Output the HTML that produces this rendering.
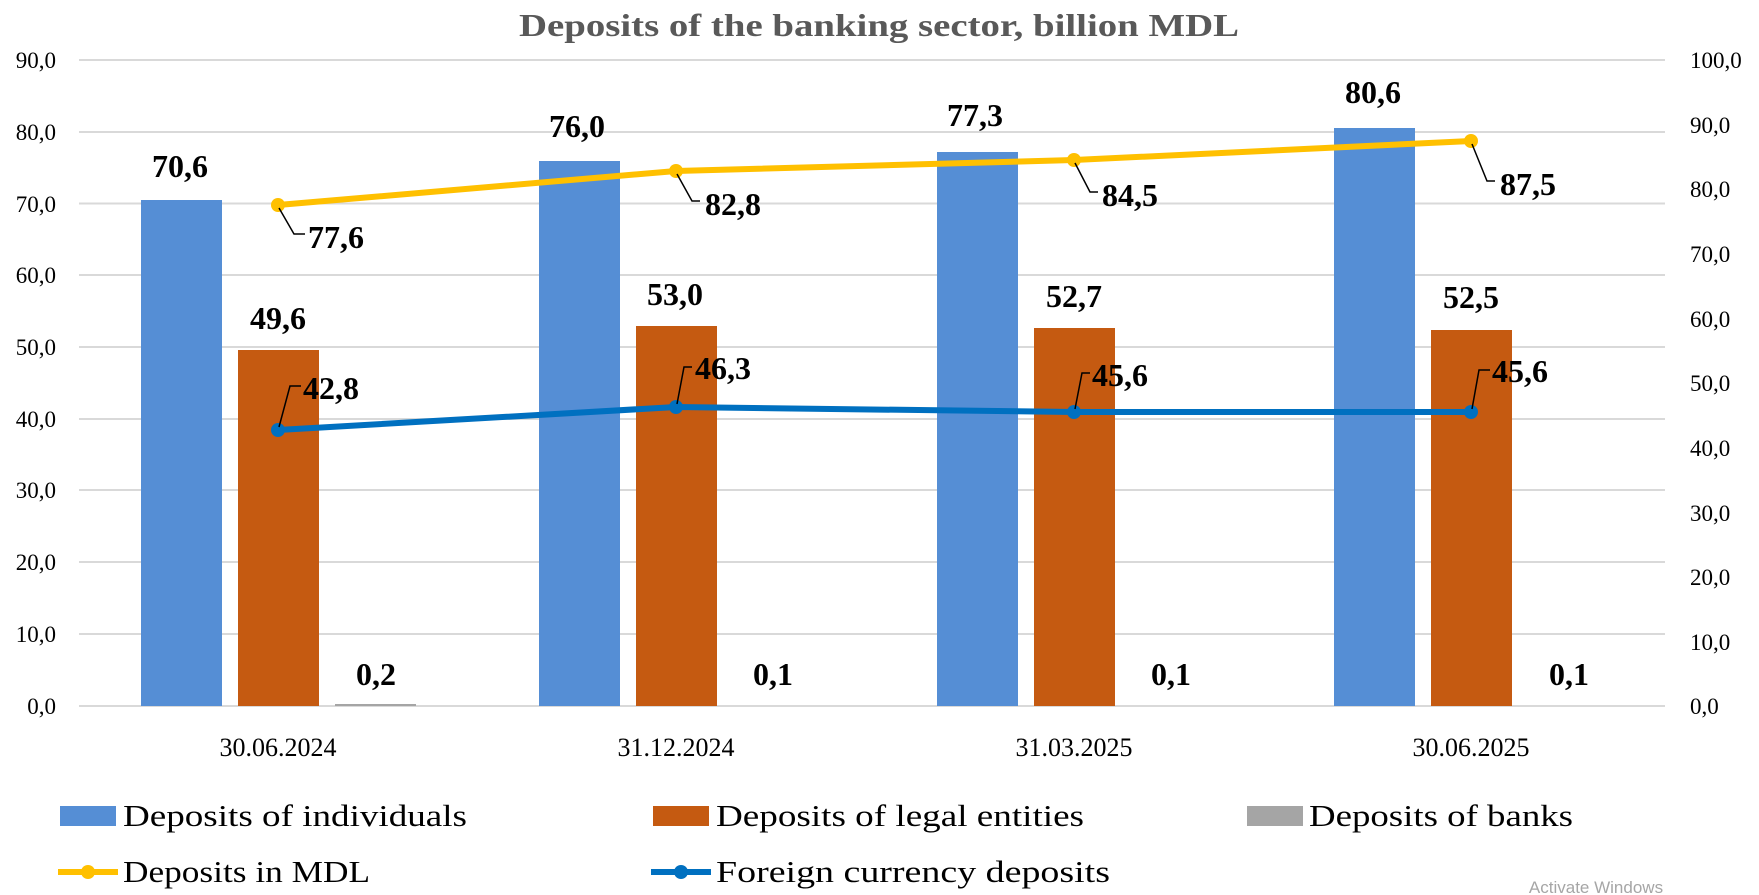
<!DOCTYPE html>
<html><head><meta charset="utf-8"><style>html,body{margin:0;padding:0;background:#fff}svg{display:block}</style></head>
<body>
<svg width="1759" height="895" viewBox="0 0 1759 895" xmlns="http://www.w3.org/2000/svg" font-family="Liberation Serif, serif">
<rect width="1759" height="895" fill="#fff"/>
<text x="879" y="36" text-anchor="middle" font-size="32" font-weight="bold" fill="#595959" textLength="720" lengthAdjust="spacingAndGlyphs">Deposits of the banking sector, billion MDL</text>
<g stroke="#d9d9d9" stroke-width="2">
<line x1="79" x2="1665" y1="60" y2="60"/><line x1="79" x2="1665" y1="132" y2="132"/><line x1="79" x2="1665" y1="203.5" y2="203.5"/><line x1="79" x2="1665" y1="275" y2="275"/><line x1="79" x2="1665" y1="347" y2="347"/><line x1="79" x2="1665" y1="419" y2="419"/><line x1="79" x2="1665" y1="490" y2="490"/><line x1="79" x2="1665" y1="562" y2="562"/><line x1="79" x2="1665" y1="634" y2="634"/><line x1="79" x2="1665" y1="706" y2="706"/>
</g>
<g font-size="23" fill="#000" text-anchor="end">
<text x="56" y="68">90,0</text><text x="56" y="140">80,0</text><text x="56" y="212">70,0</text><text x="56" y="283">60,0</text><text x="56" y="355">50,0</text><text x="56" y="427">40,0</text><text x="56" y="498">30,0</text><text x="56" y="570">20,0</text><text x="56" y="642">10,0</text><text x="56" y="714">0,0</text>
</g>
<g font-size="23" fill="#000">
<text x="1690" y="68">100,0</text><text x="1690" y="133">90,0</text><text x="1690" y="197">80,0</text><text x="1690" y="262">70,0</text><text x="1690" y="327">60,0</text><text x="1690" y="391">50,0</text><text x="1690" y="456">40,0</text><text x="1690" y="521">30,0</text><text x="1690" y="585">20,0</text><text x="1690" y="650">10,0</text><text x="1690" y="714">0,0</text>
</g>
<g fill="#558ed5">
<rect x="141" y="200" width="81" height="506"/><rect x="539" y="161" width="81" height="545"/><rect x="937" y="152" width="81" height="554"/><rect x="1334" y="128" width="81" height="578"/>
</g>
<g fill="#c55a11">
<rect x="238" y="350" width="81" height="356"/><rect x="636" y="326" width="81" height="380"/><rect x="1034" y="328" width="81" height="378"/><rect x="1431" y="330" width="81" height="376"/>
</g>
<rect x="335" y="704" width="81" height="2" fill="#a5a5a5"/>
<polyline points="278,205 676,171 1074,160 1471,141" fill="none" stroke="#ffc000" stroke-width="6"/>
<g fill="#ffc000"><circle cx="278" cy="205" r="7"/><circle cx="676" cy="171" r="7"/><circle cx="1074" cy="160" r="7"/><circle cx="1471" cy="141" r="7"/></g>
<polyline points="278,430 676,407 1074,412 1471,412" fill="none" stroke="#0070c0" stroke-width="6"/>
<g fill="#0070c0"><circle cx="278" cy="430" r="7"/><circle cx="676" cy="407" r="7"/><circle cx="1074" cy="412" r="7"/><circle cx="1471" cy="412" r="7"/></g>
<g stroke="#000" stroke-width="1.5" fill="none">
<polyline points="279,208 294,234 305,234"/><polyline points="677,174 692,201 700,201"/><polyline points="1075,163 1090,192 1098,192"/><polyline points="1472,144 1487,181 1495,181"/>
<polyline points="279,427 290,386 301,386"/><polyline points="677,404 684,367 692,367"/><polyline points="1075,409 1082,373 1090,373"/><polyline points="1472,409 1479,370 1490,370"/>
</g>
<g font-size="32" font-weight="bold" fill="#000" text-anchor="middle">
<text x="180" y="177">70,6</text><text x="278" y="329">49,6</text><text x="376" y="685">0,2</text>
<text x="577" y="137">76,0</text><text x="675" y="305">53,0</text><text x="773" y="685">0,1</text>
<text x="975" y="126">77,3</text><text x="1074" y="307">52,7</text><text x="1171" y="685">0,1</text>
<text x="1373" y="103">80,6</text><text x="1471" y="308">52,5</text><text x="1569" y="685">0,1</text>
</g>
<g font-size="32" font-weight="bold" fill="#000">
<text x="308" y="248">77,6</text><text x="705" y="215">82,8</text><text x="1102" y="206">84,5</text><text x="1500" y="195">87,5</text>
<text x="303" y="399">42,8</text><text x="695" y="379">46,3</text><text x="1092" y="386">45,6</text><text x="1492" y="382">45,6</text>
</g>
<g font-size="26" fill="#000" text-anchor="middle">
<text x="278" y="756">30.06.2024</text><text x="676" y="756">31.12.2024</text><text x="1074" y="756">31.03.2025</text><text x="1471" y="756">30.06.2025</text>
</g>
<rect x="60" y="806" width="56" height="20" fill="#558ed5"/>
<rect x="653" y="806" width="56" height="20" fill="#c55a11"/>
<rect x="1247" y="806" width="56" height="20" fill="#a5a5a5"/>
<line x1="58" x2="118" y1="872" y2="872" stroke="#ffc000" stroke-width="6"/><circle cx="88" cy="872" r="7" fill="#ffc000"/>
<line x1="651" x2="711" y1="872" y2="872" stroke="#0070c0" stroke-width="6"/><circle cx="681" cy="872" r="7" fill="#0070c0"/>
<g font-size="31" fill="#000">
<text x="123" y="826" textLength="344" lengthAdjust="spacingAndGlyphs">Deposits of individuals</text>
<text x="716" y="826" textLength="368" lengthAdjust="spacingAndGlyphs">Deposits of legal entities</text>
<text x="1309" y="826" textLength="264" lengthAdjust="spacingAndGlyphs">Deposits of banks</text>
<text x="123" y="882" textLength="247" lengthAdjust="spacingAndGlyphs">Deposits in MDL</text>
<text x="716" y="882" textLength="394" lengthAdjust="spacingAndGlyphs">Foreign currency deposits</text>
</g>
<text x="1596" y="893" font-size="17" fill="#a6a6a6" font-family="Liberation Sans, sans-serif" text-anchor="middle">Activate Windows</text>
</svg>
</body></html>
